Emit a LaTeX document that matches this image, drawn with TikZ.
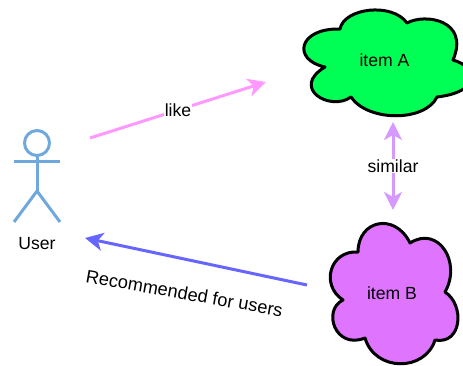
\documentclass[tikz,border=0pt]{standalone}
\usepackage{fontspec}
\setmainfont{Liberation Sans}
\usetikzlibrary{arrows.meta}
\definecolor{actorblue}{HTML}{6FA8DC}
\definecolor{likepink}{HTML}{FF99FF}
\definecolor{simviolet}{HTML}{D699FF}
\definecolor{recblue}{HTML}{6666FF}
\definecolor{itemgreen}{HTML}{00FF55}
\definecolor{itempurple}{HTML}{DF75FF}
\tikzset{
  cloudline/.style={draw=black, line width=3pt, line join=round},
  label/.style={font=\fontsize{17.6}{20}\selectfont, inner sep=1pt},
  actorline/.style={draw=actorblue, line width=3pt},
  link/.style={line width=3pt, -{Stealth[length=18pt,width=18pt,inset=5pt]}}
}
\newcommand\actorlimb[2]{\draw[actorline] (#1) -- (#2);}
\begin{document}
\begin{tikzpicture}[x=1pt,y=-1pt]
      \useasboundingbox (0,0) rectangle (463,365);

      % Draw the two clouds
      \draw[cloudline, fill=itemgreen]
        (340,29) .. controls (344,8) and (392,2) .. (407,23)
        .. controls (425,13) and (470,20) .. (453,60)
        .. controls (480,68) and (480,92) .. (437,97)
        .. controls (425,122) and (368,122) .. (351,97)
        .. controls (330,112) and (290,88) .. (325,67)
        .. controls (292,60) and (298,28) .. (340,29) -- cycle;
      \draw[cloudline, fill=itempurple]
        (358,252) .. controls (358,220) and (395,212) .. (410,243)
        .. controls (438,225) and (462,262) .. (445,292)
        .. controls (465,305) and (462,345) .. (435,340)
        .. controls (425,372) and (375,372) .. (365,338)
        .. controls (335,350) and (322,310) .. (343,300)
        .. controls (320,285) and (330,250) .. (358,252) -- cycle;

      \node[label] (itema) at (384.5,60) {item A};
      \node[label] (itemb) at (392,293) {item B};

      % Draw the user
      \node[circle, actorline, minimum size=25pt, inner sep=0pt] (head) at (37,143) {};
      \coordinate (hip) at (37,191);
      \coordinate (armleft) at (14,161.5);
      \coordinate (armright) at (60,161.5);
      \coordinate (footleft) at (14,222);
      \coordinate (footright) at (60,222);
      \actorlimb{head.south}{hip}
      \actorlimb{armleft}{armright}
      \actorlimb{hip}{footleft}
      \actorlimb{hip}{footright}
      \node[label] (user) at (37,244) {User};

      % Draw the arrows
      \coordinate (likestart) at (90,138);
      \coordinate (likeend) at (266,82);
      \coordinate (simtop) at (393,122);
      \coordinate (simbottom) at (393,210);
      \coordinate (recstart) at (307,285);
      \coordinate (recend) at (85,238);
      \draw[link, likepink] (likestart) -- (likeend) node[label, pos=.5, fill=white, text=black] (like) {like};
      \draw[link, simviolet, {Stealth[length=18pt,width=18pt,inset=5pt]}-{Stealth[length=18pt,width=18pt,inset=5pt]}] (simtop) -- (simbottom) node[label, pos=.5, fill=white, text=black] (similar) {similar};
      \draw[link, recblue] (recstart) -- (recend);
      \node[label, font=\fontsize{18.2}{20}\selectfont, rotate=-10] (recommended) at (184.5,293) {Recommended for users};
\end{tikzpicture}
\end{document}
